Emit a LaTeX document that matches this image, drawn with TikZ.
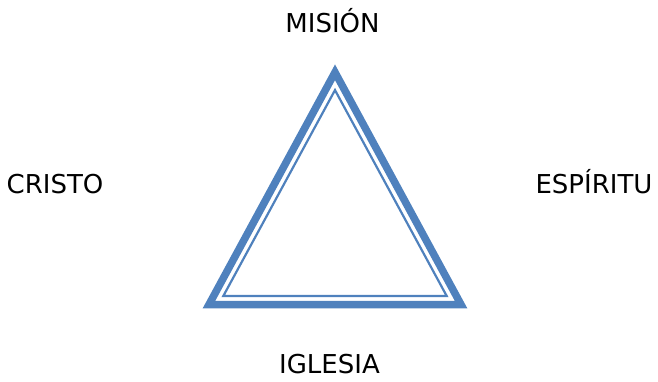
\documentclass[tikz,border=0pt]{standalone}
\usepackage{fontspec}
\setmainfont{DejaVu Sans}
\usepackage{tikz}
\usepackage{tkz-euclide}
\usepackage{xcolor}
\definecolor{azul}{RGB}{79,129,189}
\tikzset{etiqueta/.style={anchor=base, font=\fontsize{26}{31}\selectfont, text=black}}

\begin{document}
\begin{tikzpicture}[x=1pt, y=-1pt]
            \useasboundingbox (0,0) rectangle (658,381);
            \tkzDefPoints{335/72.3/M, 209/304.5/I, 461/304.5/E, 335/90.1/M', 223.3/296/I', 446.7/296/E'}
            \tkzDrawPolygon[azul, line width=7.5pt, line join=miter](M,I,E)
            \tkzDrawPolygon[azul, line width=2.2pt, line join=miter](M',I',E')
            \node[etiqueta] (mision) at (332.5,32) {MISIÓN};
            \node[etiqueta] (cristo) at (55,193) {CRISTO};
            \node[etiqueta] (espiritu) at (594,193) {ESPÍRITU};
            \node[etiqueta] (iglesia) at (329.5,373) {IGLESIA};
        \end{tikzpicture}
\end{document}
